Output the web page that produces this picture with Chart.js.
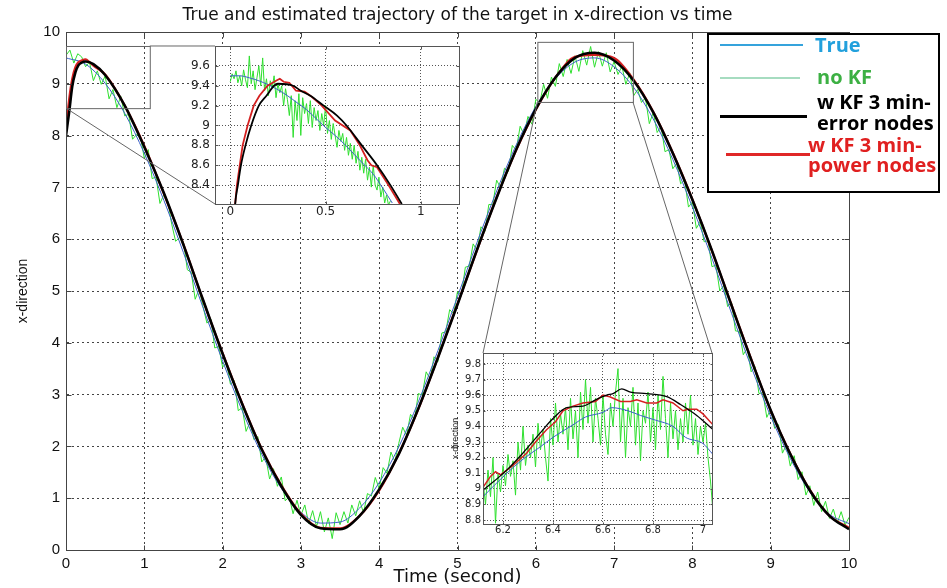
<!DOCTYPE html>
<html><head><meta charset="utf-8">
<script src="https://cdn.jsdelivr.net/npm/chart.js@4"></script>
<style>
html,body{margin:0;padding:0;background:#fff;}
#wrap{position:relative;width:947px;height:588px;overflow:hidden;background:#fff;}
#main{position:absolute;left:0;top:0;}
#in1{position:absolute;left:183px;top:33px;}
#in2{position:absolute;left:443px;top:344px;}
#legend{position:absolute;left:707px;top:33px;width:229px;height:156px;border:2px solid #000;background:#fff;font-family:"Open Sans",sans-serif;font-weight:bold;font-size:20px;}
.ln{position:absolute;}
.tx{position:absolute;line-height:20px;white-space:nowrap;}
</style></head>
<body><div id="wrap">
<canvas id="main" width="947" height="588"></canvas>
<canvas id="in1" width="284" height="191"></canvas>
<canvas id="in2" width="275" height="196"></canvas>
<div id="legend">
  <div class="ln" style="left:11px;top:9px;width:83px;height:2px;background:#35a3dc"></div>
  <div class="tx" style="left:106px;top:0px;color:#22a0dc">True</div>
  <div class="ln" style="left:11px;top:42px;width:80px;height:2px;background:#a6dcc0"></div>
  <div class="tx" style="left:108px;top:32px;color:#3cb043">no KF</div>
  <div class="ln" style="left:11px;top:80px;width:87px;height:3px;background:#000"></div>
  <div class="tx" style="left:108px;top:57px;color:#000">w KF 3 min-</div>
  <div class="tx" style="left:108px;top:78px;color:#000">error nodes</div>
  <div class="ln" style="left:17px;top:118px;width:84px;height:3px;background:#e02828"></div>
  <div class="tx" style="left:99px;top:100px;color:#e02020">w KF 3 min-</div>
  <div class="tx" style="left:99px;top:120px;color:#e02020">power nodes</div>
</div>
</div>
<script>
// ---------------- main chart data ----------------
const titleText = 'True and estimated trajectory of the target in x-direction vs time';
const xTicksMain = [0,1,2,3,4,5,6,7,8,9,10];
const yTicksMain = [0,1,2,3,4,5,6,7,8,9,10];

const timeMain = [0,0.25,0.5,0.75,1,1.25,1.5,1.75,2,2.25,2.5,2.75,3,3.25,3.5,3.75,4,4.25,4.5,4.75,5,5.25,5.5,5.75,6,6.25,6.5,6.75,7,7.25,7.5,7.75,8,8.25,8.5,8.75,9,9.25,9.5,9.75,10];
const trueMain = [9.50,9.38,9.01,8.43,7.66,6.75,5.74,4.68,3.65,2.69,1.85,1.19,0.73,0.52,0.54,0.81,1.30,1.99,2.86,3.85,4.89,5.94,6.93,7.82,8.56,9.10,9.42,9.50,9.33,8.93,8.32,7.54,6.62,5.63,4.57,3.54,2.58,1.77,1.12,0.69,0.51];

const noKFStart = 0, noKFStep = 0.05;
const noKFMain = [
9.55,9.65,9.40,9.58,9.52,9.33,9.42,9.06,9.25,8.99,9.15,8.71,8.89,8.54,8.76,8.38,8.41,7.93,8.02,7.99,
7.56,7.73,7.17,7.20,6.69,6.86,6.73,6.29,5.96,6.03,5.95,5.41,5.36,4.84,5.04,4.70,4.38,4.46,3.90,3.93,
3.53,3.62,3.20,3.27,2.69,2.75,2.29,2.47,2.13,2.19,1.70,1.80,1.37,1.57,1.23,1.41,0.95,1.03,0.70,0.96,
0.67,0.87,0.51,0.76,0.45,0.74,0.35,0.62,0.22,0.72,0.49,0.74,0.52,0.87,0.66,0.95,0.72,1.09,1.04,1.40,
1.18,1.59,1.48,1.89,1.71,2.06,2.37,2.21,2.62,2.51,3.02,2.99,3.44,3.30,3.73,3.64,4.19,4.21,4.64,4.56,
4.99,4.92,5.46,5.48,5.91,5.78,6.24,6.15,6.67,6.67,7.14,6.99,7.37,7.31,7.81,7.72,8.18,8.02,8.37,8.22,
8.70,8.63,8.99,8.72,9.13,8.95,9.39,9.14,9.47,9.20,9.54,9.24,9.64,9.36,9.72,9.32,9.62,9.34,9.60,9.23,
9.43,9.18,9.34,8.99,9.21,8.77,8.89,8.64,8.73,8.23,8.45,8.06,8.18,7.69,7.73,7.36,7.47,7.07,7.14,6.62,
6.72,6.21,6.34,5.95,5.97,5.47,5.50,5.00,5.11,4.70,4.78,4.23,4.22,3.77,3.90,3.44,3.54,3.02,3.04,2.56,
2.72,2.35,2.42,1.87,2.03,1.62,1.82,1.36,1.51,1.06,1.24,0.86,1.12,0.74,0.94,0.61,0.79,0.52,0.74,0.48,
0.63];

const kfErrTime = [0,0.04,0.08,0.12,0.16,0.2,0.25,0.35,0.5,0.75,1,1.25,1.5,1.75,2,2.25,2.5,2.75,3,3.25,3.5,3.75,4,4.25,4.5,4.75,5,5.25,5.5,5.75,6,6.25,6.5,6.75,7,7.25,7.5,7.75,8,8.25,8.5,8.75,9,9.25,9.5,9.75,10];
const kfErrMain = [8.00,8.45,8.95,9.22,9.36,9.41,9.43,9.38,9.17,8.58,7.78,6.89,5.89,4.83,3.79,2.82,1.94,1.23,0.68,0.42,0.40,0.66,1.17,1.85,2.73,3.71,4.74,5.80,6.80,7.73,8.51,9.12,9.50,9.60,9.45,9.06,8.45,7.66,6.76,5.78,4.72,3.68,2.70,1.85,1.15,0.66,0.40];

const kfPowTime = [0,0.04,0.08,0.12,0.16,0.2,0.25,0.3,0.35,0.5,0.75,1,1.25,1.5,1.75,2,2.25,2.5,2.75,3,3.25,3.5,3.75,4,4.25,4.5,4.75,5,5.25,5.5,5.75,6,6.25,6.5,6.75,7,7.25,7.5,7.75,8,8.25,8.5,8.75,9,9.25,9.5,9.75,10];
const kfPowMain = [8.10,8.70,9.10,9.32,9.42,9.45,9.47,9.42,9.35,9.18,8.58,7.80,6.88,5.90,4.82,3.80,2.83,1.95,1.25,0.70,0.43,0.42,0.66,1.15,1.86,2.72,3.72,4.75,5.79,6.81,7.72,8.50,9.12,9.52,9.56,9.50,9.08,8.46,7.67,6.77,5.77,4.73,3.69,2.69,1.86,1.16,0.66,0.43];

// zoom windows marked on the main plot (data coordinates)
const zoomWin1 = {x0:0, x1:1.07, y0:8.53, y1:9.73};
const zoomWin2 = {x0:6.02, x1:7.24, y0:8.65, y1:9.81};

// ---------------- inset 1 data ----------------
const in1XTicks = [0,0.5,1];
const in1YTicks = [8.4,8.6,8.8,9,9.2,9.4,9.6];
const in1TrueTime = [0,0.05,0.1,0.15,0.2,0.25,0.3,0.35,0.4,0.45,0.5,0.55,0.6,0.65,0.7,0.75,0.8,0.85];
const in1True = [9.50,9.50,9.48,9.45,9.41,9.36,9.30,9.23,9.16,9.07,8.98,8.90,8.81,8.71,8.61,8.51,8.37,8.22];
const in1NoKFStart = 0, in1NoKFStep = 0.01;
const in1NoKF = [9.44,9.52,9.47,9.55,9.43,9.50,9.40,9.56,9.46,9.38,9.70,9.42,9.55,9.36,9.48,9.60,9.40,9.68,9.35,9.47,
9.30,9.45,9.38,9.50,9.28,9.42,9.33,9.40,9.20,9.37,9.26,9.10,9.30,8.88,9.25,9.05,9.32,8.90,9.28,9.12,
9.22,9.02,9.25,8.98,9.18,9.05,9.15,8.95,9.12,9.00,9.20,8.92,9.05,8.86,9.02,8.90,8.78,8.95,8.84,8.92,
8.75,8.88,8.70,8.82,8.66,8.80,8.62,8.74,8.55,8.68,8.52,8.66,8.45,8.58,8.38,8.60,8.40,8.35,8.48,8.28,
8.38,8.22,8.30,8.20,8.24];
const in1KfErrTime = [0.02,0.026,0.04,0.056,0.08,0.11,0.15,0.19,0.23,0.25,0.33,0.37,0.42,0.49,0.56,0.61,0.69,0.77,0.84,0.9];
const in1KfErr = [8.0,8.21,8.4,8.6,8.8,9.0,9.2,9.3,9.4,9.42,9.4,9.35,9.3,9.2,9.1,9.0,8.8,8.6,8.4,8.21];
const in1KfPowTime = [0.02,0.035,0.05,0.065,0.091,0.123,0.153,0.196,0.24,0.26,0.28,0.31,0.345,0.39,0.42,0.48,0.55,0.63,0.68,0.72,0.74,0.77,0.83,0.89];
const in1KfPow = [8.1,8.4,8.6,8.8,9.0,9.2,9.3,9.4,9.45,9.47,9.44,9.43,9.35,9.34,9.3,9.2,9.05,8.95,8.8,8.65,8.6,8.58,8.4,8.21];

// ---------------- inset 2 data ----------------
const in2XTicks = [6.2,6.4,6.6,6.8,7];
const in2YTicks = [8.8,8.9,9,9.1,9.2,9.3,9.4,9.5,9.6,9.7,9.8];
const in2TrueTime = [6.12,6.215,6.28,6.35,6.4,6.48,6.53,6.6,6.635,6.7,6.75,6.81,6.88,6.93,7.0,7.04];
const in2True = [8.95,9.10,9.19,9.27,9.33,9.41,9.46,9.49,9.52,9.50,9.47,9.44,9.40,9.33,9.29,9.22];
const in2NoKFStart = 6.12, in2NoKFStep = 0.01;
const in2NoKF = [9.05,8.90,9.12,8.95,9.20,8.78,9.10,8.98,9.15,9.02,9.22,9.08,9.18,8.96,9.30,9.12,9.40,9.15,9.28,9.20,
9.35,9.14,9.42,9.25,9.38,9.20,9.05,9.45,9.28,9.55,9.30,9.48,9.35,9.52,9.25,9.58,9.32,9.50,9.20,9.62,
9.38,9.70,9.42,9.65,9.30,9.58,9.45,9.28,9.60,9.35,9.22,9.55,9.40,9.62,9.77,9.30,9.58,9.20,9.52,9.40,
9.65,9.28,9.55,9.18,9.50,9.42,9.62,9.30,9.52,9.25,9.60,9.38,9.72,9.45,9.20,9.55,9.32,9.50,9.25,9.45,
9.30,9.55,9.35,9.60,9.28,9.45,9.22,9.40,9.30,9.42,9.20,9.05,8.85];
const in2KfErrTime = [6.12,6.215,6.28,6.35,6.4,6.455,6.52,6.57,6.615,6.64,6.675,6.71,6.775,6.855,6.91,6.975,7.04];
const in2KfErr = [8.99,9.12,9.23,9.36,9.45,9.52,9.53,9.57,9.60,9.61,9.64,9.62,9.61,9.59,9.54,9.47,9.38];
const in2KfPowTime = [6.12,6.15,6.17,6.19,6.24,6.295,6.33,6.375,6.41,6.44,6.48,6.52,6.57,6.6,6.627,6.67,6.71,6.735,6.775,6.815,6.84,6.88,6.92,6.94,6.975,7.0,7.04];
const in2KfPow = [9.01,9.08,9.11,9.09,9.15,9.23,9.30,9.38,9.43,9.50,9.53,9.55,9.56,9.60,9.59,9.56,9.56,9.57,9.55,9.55,9.57,9.55,9.50,9.51,9.51,9.48,9.41];

// ---------------- helpers ----------------
const pts = (xs, ys) => ys.map((y, i) => ({x: xs[i], y}));
const grid = (start, step, ys) => ys.map((y, i) => ({x: +(start + i * step).toFixed(3), y}));
const setTicks = vals => (s => { s.ticks = vals.map(v => ({value: v})); });
const fmt = v => String(+(+v).toFixed(2));

const COL = {true: '#3a5fc8', noKF: '#2fe02f', err: '#000000', pow: '#d42020'};

const whiteArea = {id: 'whiteArea', beforeDraw(c) {
  const a = c.chartArea, ctx = c.ctx;
  ctx.save(); ctx.fillStyle = '#fff'; ctx.fillRect(a.left, a.top, a.right - a.left, a.bottom - a.top); ctx.restore();
}};
const frame = (color, tickLen) => ({id: 'frame', afterDraw(c) {
  const a = c.chartArea, ctx = c.ctx;
  ctx.save(); ctx.strokeStyle = color; ctx.lineWidth = 1; ctx.setLineDash([]);
  const L = Math.round(a.left) + 0.5, T = Math.round(a.top) + 0.5, R = Math.round(a.right) + 0.5, B = Math.round(a.bottom) + 0.5;
  ctx.strokeRect(L, T, R - L, B - T);
  if (tickLen) {
    ctx.beginPath();
    c.scales.x.ticks.forEach(t => {
      const px = Math.round(c.scales.x.getPixelForValue(t.value)) + 0.5;
      ctx.moveTo(px, B); ctx.lineTo(px, B - tickLen);
      ctx.moveTo(px, T); ctx.lineTo(px, T + tickLen);
    });
    c.scales.y.ticks.forEach(t => {
      const py = Math.round(c.scales.y.getPixelForValue(t.value)) + 0.5;
      ctx.moveTo(L, py); ctx.lineTo(L + tickLen, py);
      ctx.moveTo(R, py); ctx.lineTo(R - tickLen, py);
    });
    ctx.stroke();
  }
  ctx.restore();
}});

function datasets(tr, nk, er, pw, wErr, wPow, smooth) {
  return [
    {data: nk, borderColor: COL.noKF, borderWidth: 1, pointRadius: 0, order: 4, tension: 0},
    {data: tr, borderColor: COL.true, borderWidth: 1, pointRadius: 0, order: 3, cubicInterpolationMode: 'monotone'},
    {data: pw, borderColor: COL.pow, borderWidth: wPow, pointRadius: 0, order: 2, cubicInterpolationMode: smooth ? 'monotone' : 'default', tension: 0},
    {data: er, borderColor: COL.err, borderWidth: wErr, pointRadius: 0, order: 1, cubicInterpolationMode: 'monotone'}
  ];
}

function insetOptions(o) {
  return {
    responsive: false, animation: false, devicePixelRatio: 1,
    layout: {padding: o.pad},
    plugins: {legend: {display: false}, tooltip: {enabled: false}, title: {display: false}},
    scales: {
      x: {type: 'linear', min: o.xmin, max: o.xmax, afterFit: s => { s.height = o.xh; }, afterBuildTicks: setTicks(o.xt),
        grid: {color: '#555', drawTicks: false}, border: {color: '#555', dash: [1, 2]},
        ticks: {padding: o.xpad, color: '#222', font: {family: 'DejaVu Sans', size: o.fs}, maxRotation: 0, autoSkip: false, callback: fmt}},
      y: {type: 'linear', min: o.ymin, max: o.ymax, afterFit: s => { s.width = o.yw; }, afterBuildTicks: setTicks(o.yt),
        grid: {color: '#555', drawTicks: false}, border: {color: '#555', dash: [1, 2]},
        ticks: {padding: o.ypad, color: '#222', font: {family: 'DejaVu Sans', size: o.fs}, autoSkip: false, callback: fmt},
        title: o.ytitle ? {display: true, text: o.ytitle, color: '#222', font: {family: 'Liberation Sans', size: 9}, padding: {top: 7, bottom: 0}} : {display: false}}
    }
  };
}

const in1 = new Chart(document.getElementById('in1'), {
  type: 'line',
  data: {datasets: datasets(pts(in1TrueTime, in1True), grid(in1NoKFStart, in1NoKFStep, in1NoKF), pts(in1KfErrTime, in1KfErr), pts(in1KfPowTime, in1KfPow), 1.8, 1.8, false)},
  options: insetOptions({pad: {left: 0, right: 8, top: 13, bottom: 0}, xmin: -0.08, xmax: 1.2, ymin: 8.21, ymax: 9.8, xh: 20, yw: 32, xt: in1XTicks, yt: in1YTicks, xpad: 1, ypad: 5, fs: 12}),
  plugins: [whiteArea, frame('#555', 3)]
});

const in2 = new Chart(document.getElementById('in2'), {
  type: 'line',
  data: {datasets: datasets(pts(in2TrueTime, in2True), grid(in2NoKFStart, in2NoKFStep, in2NoKF), pts(in2KfErrTime, in2KfErr), pts(in2KfPowTime, in2KfPow), 1.3, 1.5, false)},
  options: insetOptions({pad: {left: 0, right: 6, top: 9, bottom: 0}, xmin: 6.12, xmax: 7.036, ymin: 8.775, ymax: 9.87, xh: 16, yw: 40, xt: in2XTicks, yt: in2YTicks, xpad: 0, ypad: 2, fs: 10, ytitle: 'x-direction'}),
  plugins: [whiteArea, frame('#555', 2)]
});

const zoomPlugin = {id: 'zoomLinks', afterDraw(c) {
  const ctx = c.ctx, X = c.scales.x, Y = c.scales.y;
  const corners = ch => {
    const a = ch.chartArea, el = ch.canvas;
    return {l: el.offsetLeft + a.left, r: el.offsetLeft + a.right, t: el.offsetTop + a.top, b: el.offsetTop + a.bottom};
  };
  const box = w => ({l: X.getPixelForValue(w.x0), r: X.getPixelForValue(w.x1), t: Y.getPixelForValue(w.y1), b: Y.getPixelForValue(w.y0)});
  const line = (x1, y1, x2, y2) => { ctx.beginPath(); ctx.moveTo(x1, y1); ctx.lineTo(x2, y2); ctx.stroke(); };
  ctx.save(); ctx.strokeStyle = '#666'; ctx.lineWidth = 1; ctx.setLineDash([]);
  const b1 = box(zoomWin1), b2 = box(zoomWin2), c1 = corners(in1), c2 = corners(in2);
  ctx.strokeRect(b1.l + 0.5, b1.t + 0.5, b1.r - b1.l, b1.b - b1.t);
  ctx.strokeRect(b2.l + 0.5, b2.t + 0.5, b2.r - b2.l, b2.b - b2.t);
  line(b1.l, b1.b, c1.l, c1.b);
  line(b1.r, b1.t, c1.l, c1.t);
  line(b2.l, b2.b, c2.l, c2.t);
  line(b2.r, b2.b, c2.r, c2.t);
  ctx.restore();
}};

new Chart(document.getElementById('main'), {
  type: 'line',
  data: {datasets: datasets(pts(timeMain, trueMain), grid(noKFStart, noKFStep, noKFMain), pts(kfErrTime, kfErrMain), pts(kfPowTime, kfPowMain), 2.6, 2.2, true)},
  options: {
    responsive: false, animation: false, devicePixelRatio: 1,
    layout: {padding: {left: 0, right: 98, top: 0, bottom: 0}},
    plugins: {
      legend: {display: false}, tooltip: {enabled: false},
      title: {display: true, text: titleText, fullSize: false, color: '#111', font: {family: 'DejaVu Sans', size: 17, weight: 'normal'}, padding: {top: 5, bottom: 6.6}}
    },
    scales: {
      x: {type: 'linear', min: 0, max: 10, afterFit: s => { s.height = 38; }, afterBuildTicks: setTicks(xTicksMain),
        grid: {color: '#444', drawTicks: false}, border: {color: '#444', dash: [2, 3]},
        ticks: {padding: 5, color: '#111', font: {family: 'Liberation Sans', size: 15}, maxRotation: 0, autoSkip: false},
        title: {display: true, text: 'Time (second)', color: '#111', font: {family: 'DejaVu Sans', size: 18}, padding: {top: 0, bottom: 0}}},
      y: {type: 'linear', min: 0, max: 10, afterFit: s => { s.width = 66; }, afterBuildTicks: setTicks(yTicksMain),
        grid: {color: '#444', drawTicks: false}, border: {color: '#444', dash: [2, 3]},
        ticks: {padding: 6, color: '#111', font: {family: 'Liberation Sans', size: 15}, autoSkip: false},
        title: {display: true, text: 'x-direction', color: '#111', font: {family: 'Liberation Sans', size: 14}, padding: {top: 15, bottom: 0}}}
    }
  },
  plugins: [frame('#444', 5), zoomPlugin]
});
</script>
</body></html>
